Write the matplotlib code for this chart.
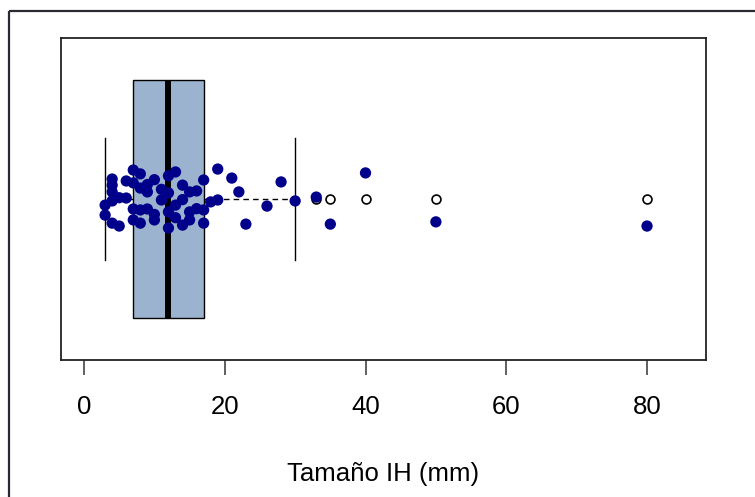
import matplotlib
matplotlib.use("Agg")
import matplotlib.pyplot as plt
from matplotlib.patches import Rectangle

plt.rcParams['font.family'] = ['Liberation Sans', 'DejaVu Sans']

# box statistics (mm)
q1 = 7
median = 12
q3 = 17
whisker_lo = 3
whisker_hi = 30
outliers = [33, 35, 40, 50, 80]

# jittered observations: size (mm) and vertical jitter
sizes = [4, 4, 4, 3, 3, 4, 5,
         7, 6, 7, 8, 8, 9, 6, 7, 8, 9, 7, 8, 10,
         11, 12, 13, 14, 15, 16, 13, 12, 15, 15, 12, 14,
         17, 17, 17, 19, 21, 22, 19, 18, 26, 23, 28, 30, 33, 35, 40, 50, 80,
         5, 10, 11, 14, 9, 16, 13, 4, 10, 12]
jitter = [0.062, 0.043, 0.022, -0.019, -0.050, -0.075, -0.084,
          0.090, 0.056, 0.050, 0.078, 0.034, 0.022, 0.003, -0.031, -0.034, -0.031, -0.065, -0.075, -0.065,
          -0.003, 0.019, 0.084, 0.043, 0.022, 0.025, -0.019, -0.040, -0.040, -0.065, -0.090, -0.081,
          0.059, -0.034, -0.075, 0.093, 0.065, 0.022, -0.003, -0.009, -0.022, -0.078, 0.053, -0.006, 0.006, -0.078, 0.081, -0.071, -0.084,
          0.004, 0.060, 0.030, -0.002, 0.045, -0.030, -0.058, -0.006, -0.048, 0.072]

xticks = [0, 20, 40, 60, 80]
xlabel = "Tamaño IH (mm)"

fig = plt.figure(figsize=(7.55, 4.97), dpi=100)
ax = fig.add_axes([61/755, 1-360/497, 645/755, 322/497])

stats = [dict(q1=q1, med=median, q3=q3, whislo=whisker_lo, whishi=whisker_hi, fliers=outliers)]
ax.bxp(stats, positions=[1], widths=0.742, vert=False, patch_artist=True,
       boxprops=dict(facecolor='#9bb3ce', edgecolor='black', linewidth=1),
       medianprops=dict(color='black', linewidth=4.3, solid_capstyle='butt'),
       whiskerprops=dict(color='black', linewidth=1, linestyle=(0, (4, 3))),
       capprops=dict(color='black', linewidth=1),
       capwidths=0.379,
       flierprops=dict(marker='o', markerfacecolor='white', markeredgecolor='black',
                       markersize=6.4, markeredgewidth=1.2))

ys = [1 + j for j in jitter]
ax.scatter(sizes, ys, s=66, color='#00008b', edgecolors='none', zorder=5)

ax.set_xlim(-3.27, 88.38)
ax.set_ylim(0.5, 1.5)
ax.set_yticks([])
ax.set_xticks(xticks)
ax.tick_params(axis='x', length=11, width=1.2, color='#444444', labelsize=18.5, pad=14)
for s in ax.spines.values():
    s.set_linewidth(1.3)
    s.set_color('#222222')
ax.set_xlabel(xlabel, fontsize=18.5, labelpad=31)

# outer frame of the figure region
fig.patches.append(Rectangle((9, 497-11), 800, -600, transform=None, fill=False,
                             edgecolor='#2a2a33', linewidth=1.6))

fig.savefig("out.png", dpi=100)
